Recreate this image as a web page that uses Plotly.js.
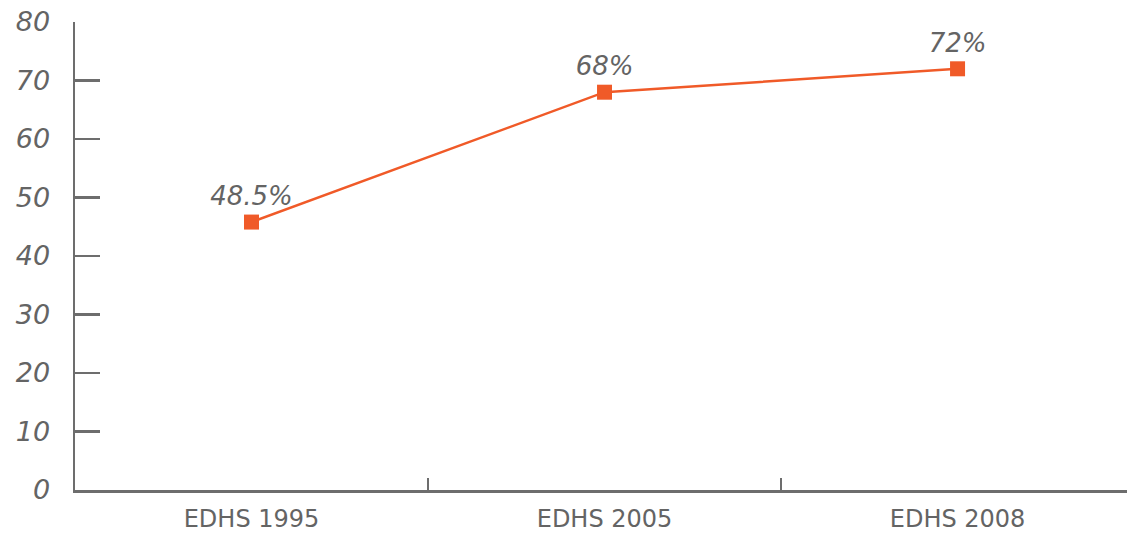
<!DOCTYPE html>
<html>
<head>
<meta charset="utf-8">
<script src="https://cdn.plot.ly/plotly-3.0.1.min.js"></script>
<style>html,body{margin:0;padding:0;background:#fff;}#chart{width:1127px;height:533px;}</style>
</head>
<body>
<div id="chart"></div>
<script>
const categories = ["EDHS 1995", "EDHS 2005", "EDHS 2008"];
const values = [45.8, 68, 72];
const pointLabels = ["48.5%", "68%", "72%"];
const yTicks = [0, 10, 20, 30, 40, 50, 60, 70, 80];

const grey = "#646464";
const fontFam = "'DejaVu Sans', 'Noto Sans', sans-serif";

const trace = {
  type: "scatter",
  mode: "lines+markers+text",
  x: categories,
  y: values,
  text: pointLabels,
  textposition: "top center",
  textfont: {family: fontFam, size: 26, color: grey, style: "italic"},
  line: {color: "#f05a28", width: 2.5},
  marker: {symbol: "square", size: 15, color: "#f05a28"},
  cliponaxis: false,
  hoverinfo: "skip"
};

const layout = {
  width: 1127,
  height: 533,
  margin: {l: 75, r: 0, t: 22, b: 43},
  paper_bgcolor: "#fff",
  plot_bgcolor: "#fff",
  showlegend: false,
  xaxis: {
    type: "category",
    range: [-0.5, 2.48],
    showgrid: false,
    zeroline: false,
    showline: true,
    linecolor: "#6d6d6d",
    linewidth: 2.5,
    ticks: "inside",
    tickson: "boundaries",
    ticklen: 12,
    tickwidth: 2,
    tickcolor: "#6d6d6d",
    tickfont: {family: fontFam, size: 24, color: grey},
    ticklabelstandoff: 6
  },
  yaxis: {
    range: [0, 80],
    tickvals: yTicks,
    showgrid: false,
    zeroline: false,
    showline: true,
    linecolor: "#6d6d6d",
    linewidth: 2.5,
    ticks: "inside",
    ticklen: 25,
    tickwidth: 2.5,
    tickcolor: "#6d6d6d",
    tickfont: {family: fontFam, size: 27, color: grey, style: "italic"},
    ticklabelstandoff: 17
  }
};

Plotly.newPlot("chart", [trace], layout, {displayModeBar: false, staticPlot: true});
</script>
</body>
</html>
